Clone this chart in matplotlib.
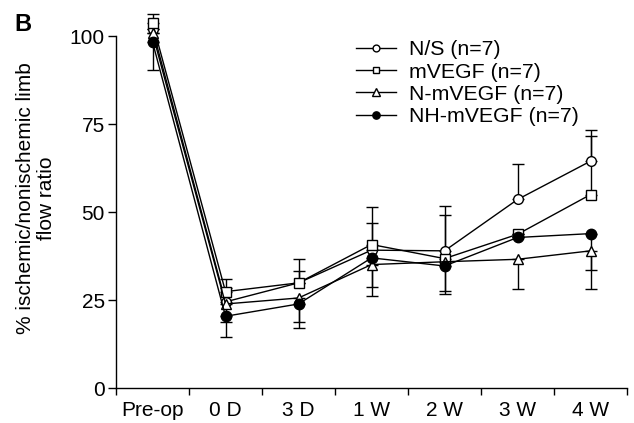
import numpy as np
import matplotlib.pyplot as plt

plt.rcParams["font.family"] = ["Liberation Sans", "DejaVu Sans"]

# data
categories = ["Pre-op", "0 D", "3 D", "1 W", "2 W", "3 W", "4 W"]
labels = ["N/S (n=7)", "mVEGF (n=7)", "N-mVEGF (n=7)", "NH-mVEGF (n=7)"]

ns = [102.0, 24.5, 29.9, 39.2, 39.0, 53.6, 64.5]
mvegf = [103.8, 27.4, 29.9, 40.8, 36.8, 43.7, 55.0]
n_mvegf = [100.8, 23.9, 25.6, 35.1, 35.9, 36.6, 39.0]
nh_mvegf = [98.4, 20.4, 23.9, 37.0, 34.7, 42.8, 43.9]

# (lower, upper) error lengths; 0 where the bar is hidden
ns_err = ([0, 0, 0, 0, 0, 0, 0], [0, 3.9, 3.4, 7.8, 12.7, 10.2, 8.8])
mvegf_err = ([0, 0, 0, 0, 0, 0, 0], [2.6, 3.6, 6.7, 10.7, 12.3, 0, 16.6])
n_mvegf_err = ([0, 5.1, 6.8, 6.3, 8.3, 8.5, 5.5], [0, 0, 0, 0, 0, 0, 0])
nh_mvegf_err = ([8.1, 5.9, 6.8, 10.7, 8.0, 0, 15.8], [0, 0, 0, 0, 0, 0, 0])

series = [ns, mvegf, n_mvegf, nh_mvegf]
errors = [ns_err, mvegf_err, n_mvegf_err, nh_mvegf_err]
markers = ["o", "s", "^", "o"]
faces = ["white", "white", "white", "black"]
sizes = [7, 6.5, 7.5, 7.5]

FS = 15

fig = plt.figure(figsize=(6.34, 4.23), dpi=100)
ax = fig.add_axes([0.183, 0.0827, 0.806, 0.898])

x = np.arange(len(categories)) + 0.5
handles = []
for i in range(4):
    ax.errorbar(x, series[i], yerr=np.array(errors[i]), fmt="none", ecolor="black",
                elinewidth=1.0, capsize=4.5, capthick=1.0, zorder=2, clip_on=False)
    h, = ax.plot(x, series[i], color="black", lw=1.0, marker=markers[i],
                 markersize=sizes[i], markerfacecolor=faces[i], markeredgecolor="black",
                 markeredgewidth=1.0, zorder=3 + i, clip_on=False, label=labels[i])
    handles.append(h)

ax.set_xlim(0, 7)
ax.set_ylim(0, 108)
ax.spines["top"].set_visible(False)
ax.spines["right"].set_visible(False)
ax.spines["left"].set_bounds(0, 100)
ax.spines["left"].set_linewidth(1.0)
ax.spines["bottom"].set_linewidth(1.0)

ax.set_yticks([0, 25, 50, 75, 100])
ax.set_xticks(np.arange(0, 8))
ax.set_xticklabels([])
ax.set_xticks(x, minor=True)
ax.set_xticklabels(categories, minor=True)
ax.tick_params(axis="x", which="major", direction="out", length=5, width=1.0)
ax.tick_params(axis="x", which="minor", length=0, pad=9, labelsize=FS)
ax.tick_params(axis="y", direction="out", length=6, width=1.0, labelsize=FS, pad=2)

ax.set_ylabel("% ischemic/nonischemic limb\nflow ratio", fontsize=FS, linespacing=1.15, labelpad=10)

leg = ax.legend(handles=handles, loc="upper left", bbox_to_anchor=(0.469, 0.915),
                frameon=False, fontsize=15.3, markerscale=0.7, handlelength=1.9,
                handletextpad=0.6, labelspacing=0.15, borderaxespad=0.0,
                borderpad=0.0)

fig.text(0.022, 0.97, "B", fontsize=17, fontweight="bold", va="top", ha="left")

fig.savefig("out.png", dpi=100)
